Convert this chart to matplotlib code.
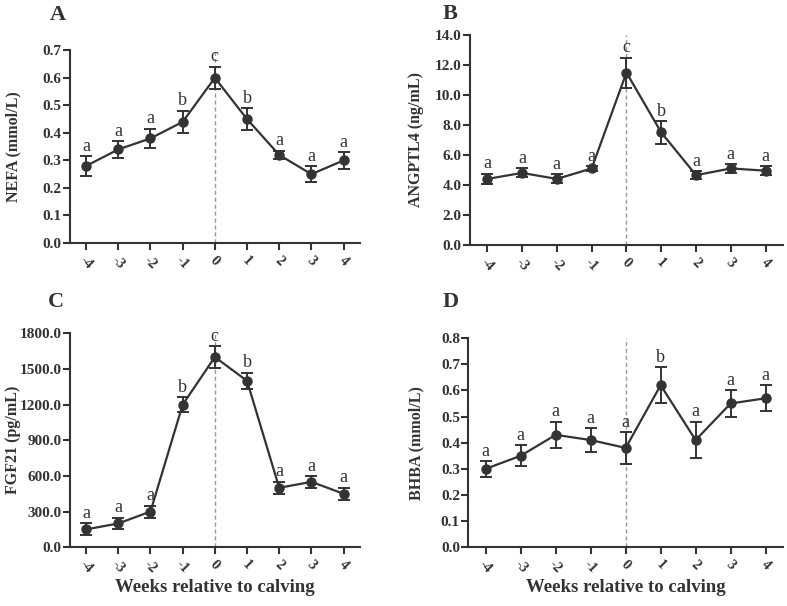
import numpy as np
import matplotlib
matplotlib.use('agg')
from matplotlib import pyplot as plt
from matplotlib import transforms

weeks = [-4, -3, -2, -1, 0, 1, 2, 3, 4]
week_labels = ['-4', '-3', '-2', '-1', '0', '1', '2', '3', '4']

nefa = [0.28, 0.34, 0.38, 0.44, 0.60, 0.45, 0.32, 0.25, 0.30]
nefa_err = [0.035, 0.03, 0.035, 0.04, 0.04, 0.04, 0.015, 0.03, 0.03]
nefa_letters = ['a', 'a', 'a', 'b', 'c', 'b', 'a', 'a', 'a']

angptl4 = [4.4, 4.8, 4.4, 5.1, 11.5, 7.5, 4.65, 5.1, 4.95]
angptl4_err = [0.35, 0.3, 0.3, 0.15, 1.0, 0.75, 0.25, 0.3, 0.3]
angptl4_letters = ['a', 'a', 'a', 'a', 'c', 'b', 'a', 'a', 'a']

fgf21 = [150, 200, 300, 1200, 1600, 1400, 500, 550, 450]
fgf21_err = [50, 50, 50, 60, 90, 70, 50, 50, 50]
fgf21_letters = ['a', 'a', 'a', 'b', 'c', 'b', 'a', 'a', 'a']

bhba = [0.30, 0.35, 0.43, 0.41, 0.38, 0.62, 0.41, 0.55, 0.57]
bhba_err = [0.03, 0.04, 0.05, 0.045, 0.06, 0.07, 0.07, 0.05, 0.05]
bhba_letters = ['a', 'a', 'a', 'a', 'a', 'b', 'a', 'a', 'a']

plt.rcParams['font.family'] = ['Liberation Serif', 'DejaVu Serif']
col = '#333333'

fig = plt.figure(figsize=(7.87, 6.06), dpi=100)

panels = [
    ('A', [0.089, 0.599, 0.368, 0.318], nefa, nefa_err, nefa_letters,
     'NEFA (mmol/L)', np.arange(0, 0.71, 0.1), False, (0.063, 0.992)),
    ('B', [0.597, 0.596, 0.398, 0.346], angptl4, angptl4_err, angptl4_letters,
     'ANGPTL4 (ng/mL)', np.arange(0, 14.1, 2.0), False, (0.563, 0.994)),
    ('C', [0.089, 0.097, 0.368, 0.353], fgf21, fgf21_err, fgf21_letters,
     'FGF21 (pg/mL)', np.arange(0, 1801, 300), True, (0.061, 0.518)),
    ('D', [0.595, 0.097, 0.400, 0.345], bhba, bhba_err, bhba_letters,
     'BHBA (mmol/L)', np.arange(0, 0.81, 0.1), True, (0.563, 0.518)),
]

for name, pos, vals, errs, letters, ylab, yt, xlab, lpos in panels:
    ax = fig.add_axes(pos)
    ax.axvline(0, color='#999999', lw=1, ls=(0, (3, 2)), zorder=1)
    ax.errorbar(weeks, vals, yerr=errs, color=col, marker='o', ms=6.5, lw=1.6,
                capsize=4, elinewidth=1.4, capthick=1.4, zorder=3)
    for x, v, e, t in zip(weeks, vals, errs, letters):
        ax.annotate(t, (x, v + e), xytext=(0, 1), textcoords='offset points',
                    ha='center', va='bottom', fontsize=13, color=col)
    ax.set_xlim(-4.5, 4.5)
    ax.set_ylim(0, yt[-1])
    ax.set_yticks(yt)
    ax.set_yticklabels(['%.1f' % t for t in yt], fontweight='bold', fontsize=11)
    ax.set_xticks(weeks)
    ax.set_xticklabels(week_labels, rotation=-45, fontweight='bold', fontsize=10.5,
                       ha='center', va='top')
    ax.set_ylabel(ylab, fontweight='bold', fontsize=11.5, color=col)
    # y label: x in figure pixels (as in the reference), y centred on the axes
    lx = (21 if name in ('A', 'C') else 424) / 787
    tr = transforms.blended_transform_factory(fig.transFigure, ax.transAxes)
    ax.yaxis.set_label_coords(lx, 0.5, transform=tr)
    if xlab:
        ax.set_xlabel('Weeks relative to calving', fontweight='bold', fontsize=13.5,
                      color=col, labelpad=2)
    for s in ['top', 'right']:
        ax.spines[s].set_visible(False)
    for s in ['left', 'bottom']:
        ax.spines[s].set_linewidth(1.5)
        ax.spines[s].set_color(col)
    ax.tick_params(width=1.5, length=5, color=col, labelcolor=col)
    ax.tick_params(axis='y', pad=1)
    ax.tick_params(axis='x', pad=3)
    fig.text(lpos[0], lpos[1], name, fontsize=16, fontweight='bold', color=col,
             ha='left', va='top')

fig.savefig('out.png', dpi=100)
